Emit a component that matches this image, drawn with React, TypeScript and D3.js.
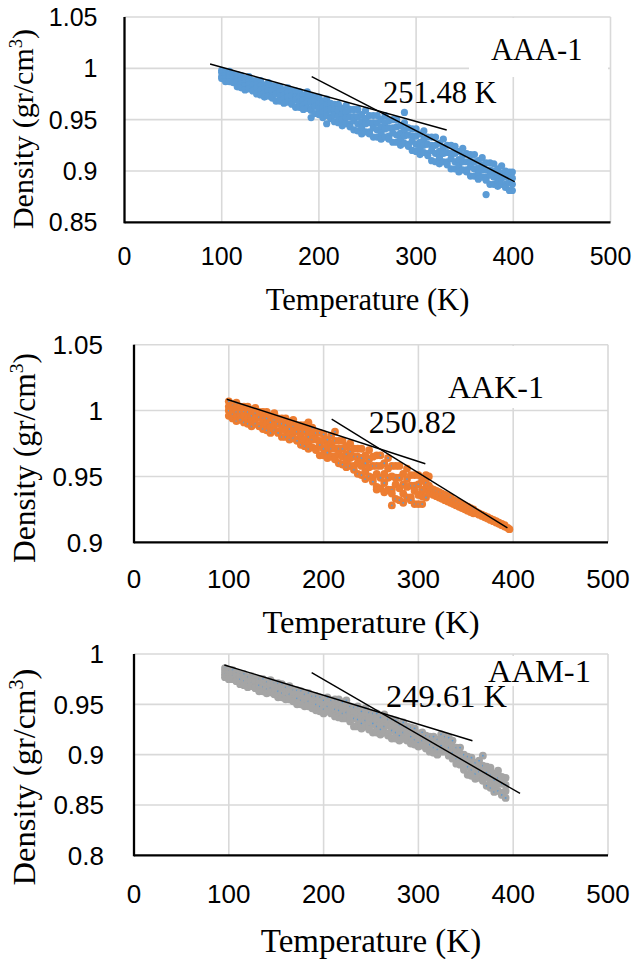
import React from "react";
import * as d3 from "d3";

// ---- data: [temperature, density values...] ----
const xTicks = [0, 100, 200, 300, 400, 500];

const aaaTicks = [0.85, 0.9, 0.95, 1, 1.05];
const aaaRows: number[][] = [
  [100, 0.998, 0.996, 0.992, 0.990], [104, 0.996, 0.993, 0.990, 0.987], [108, 0.997, 0.994, 0.991, 0.987],
  [112, 0.994, 0.991, 0.987, 0.986], [116, 0.994, 0.990, 0.987, 0.982], [120, 0.993, 0.989, 0.985, 0.981],
  [124, 0.990, 0.986, 0.983, 0.979], [128, 0.992, 0.987, 0.984, 0.980], [132, 0.988, 0.984, 0.979, 0.978],
  [136, 0.988, 0.984, 0.981, 0.975], [140, 0.988, 0.983, 0.979, 0.974], [144, 0.984, 0.980, 0.976, 0.972],
  [148, 0.986, 0.981, 0.978, 0.973], [152, 0.983, 0.978, 0.973, 0.971], [156, 0.983, 0.978, 0.975, 0.968],
  [160, 0.982, 0.977, 0.973, 0.968], [164, 0.979, 0.974, 0.970, 0.966], [168, 0.981, 0.976, 0.972, 0.967],
  [172, 0.978, 0.973, 0.967, 0.965], [176, 0.978, 0.972, 0.969, 0.962], [180, 0.977, 0.972, 0.967, 0.962],
  [184, 0.974, 0.969, 0.964, 0.960], [188, 0.977, 0.971, 0.967, 0.961], [192, 0.973, 0.967, 0.961, 0.959, 0.952],
  [196, 0.972, 0.967, 0.963, 0.956], [200, 0.972, 0.966, 0.961, 0.955], [204, 0.968, 0.962, 0.957, 0.952],
  [208, 0.970, 0.964, 0.959, 0.954, 0.946], [212, 0.966, 0.960, 0.953, 0.951], [216, 0.965, 0.959, 0.955, 0.948],
  [220, 0.965, 0.959, 0.953, 0.947], [224, 0.961, 0.955, 0.950, 0.944], [228, 0.964, 0.957, 0.952, 0.946],
  [232, 0.960, 0.953, 0.946, 0.943], [236, 0.960, 0.953, 0.949, 0.940], [240, 0.960, 0.953, 0.946, 0.939],
  [244, 0.955, 0.948, 0.942, 0.936], [248, 0.959, 0.951, 0.946, 0.938], [252, 0.954, 0.947, 0.938, 0.936],
  [256, 0.954, 0.947, 0.942, 0.933], [260, 0.954, 0.947, 0.940, 0.933], [264, 0.950, 0.943, 0.937, 0.931],
  [268, 0.954, 0.947, 0.941, 0.933], [272, 0.949, 0.942, 0.934, 0.931], [276, 0.950, 0.942, 0.937, 0.928],
  [280, 0.950, 0.943, 0.935, 0.928], [284, 0.944, 0.937, 0.931, 0.925], [288, 0.947, 0.940, 0.934, 0.927, 0.957],
  [292, 0.942, 0.935, 0.926, 0.924], [296, 0.941, 0.934, 0.929, 0.920], [300, 0.941, 0.934, 0.926, 0.919],
  [304, 0.936, 0.928, 0.922, 0.916], [308, 0.939, 0.931, 0.925, 0.918], [312, 0.933, 0.926, 0.917, 0.915],
  [316, 0.933, 0.925, 0.920, 0.910], [320, 0.933, 0.925, 0.917, 0.909], [324, 0.927, 0.919, 0.913, 0.907],
  [328, 0.931, 0.923, 0.917, 0.909], [332, 0.925, 0.918, 0.909, 0.906], [336, 0.925, 0.917, 0.912, 0.902],
  [340, 0.924, 0.917, 0.909, 0.902], [344, 0.919, 0.911, 0.905, 0.899], [348, 0.922, 0.915, 0.909, 0.901],
  [352, 0.917, 0.909, 0.901, 0.899], [356, 0.916, 0.909, 0.904, 0.895, 0.915], [360, 0.916, 0.909, 0.902, 0.895],
  [364, 0.910, 0.903, 0.898, 0.892], [368, 0.913, 0.906, 0.901, 0.894], [372, 0.908, 0.901, 0.894, 0.891, 0.877],
  [376, 0.908, 0.901, 0.896, 0.887], [380, 0.907, 0.900, 0.894, 0.887], [384, 0.902, 0.896, 0.890, 0.885],
  [388, 0.905, 0.898, 0.893, 0.887], [392, 0.900, 0.894, 0.887, 0.884], [396, 0.899, 0.893, 0.889, 0.881],
  [399, 0.899, 0.893, 0.887, 0.881],
];
const aaaFits = [
  [[88, 1.0042], [331.5, 0.9399]],
  [[192.6, 0.9918], [401.4, 0.8895]],
];

const aakTicks = [0.9, 0.95, 1, 1.05];
const aakRows: number[][] = [
  [100, 1.007, 1.003, 1.000, 0.996], [104, 1.004, 1.001, 0.997, 0.994], [108, 1.006, 1.002, 0.999, 0.995, 0.992],
  [112, 1.003, 0.999, 0.995, 0.993], [116, 1.003, 0.999, 0.996, 0.991], [120, 1.003, 0.999, 0.994, 0.990],
  [124, 1.000, 0.996, 0.992, 0.988], [128, 1.002, 0.998, 0.994, 0.990], [132, 0.999, 0.995, 0.989, 0.988],
  [136, 0.999, 0.994, 0.991, 0.986], [140, 0.999, 0.994, 0.990, 0.985], [144, 0.996, 0.991, 0.987, 0.983],
  [148, 0.998, 0.993, 0.989, 0.985], [152, 0.994, 0.990, 0.984, 0.983], [156, 0.994, 0.990, 0.986, 0.980],
  [160, 0.994, 0.989, 0.985, 0.980], [164, 0.991, 0.986, 0.982, 0.978], [168, 0.993, 0.988, 0.984, 0.979],
  [172, 0.989, 0.984, 0.978, 0.977], [176, 0.989, 0.984, 0.981, 0.974], [180, 0.989, 0.984, 0.978, 0.973],
  [184, 0.985, 0.980, 0.975, 0.971, 0.991], [188, 0.987, 0.982, 0.978, 0.972], [192, 0.983, 0.978, 0.971, 0.970],
  [196, 0.983, 0.977, 0.974, 0.966], [200, 0.982, 0.977, 0.971, 0.966], [204, 0.978, 0.973, 0.968, 0.964],
  [208, 0.981, 0.975, 0.971, 0.965], [212, 0.977, 0.971, 0.965, 0.963, 0.984], [216, 0.977, 0.971, 0.967, 0.960],
  [220, 0.977, 0.971, 0.965, 0.959], [224, 0.973, 0.967, 0.962, 0.957], [228, 0.975, 0.969, 0.964, 0.958],
  [232, 0.971, 0.965, 0.958, 0.955], [236, 0.971, 0.965, 0.960, 0.952], [240, 0.971, 0.964, 0.958, 0.951],
  [244, 0.966, 0.960, 0.954, 0.948], [248, 0.970, 0.963, 0.957, 0.950], [252, 0.965, 0.958, 0.949, 0.946],
  [256, 0.966, 0.958, 0.952, 0.942, 0.940], [260, 0.966, 0.958, 0.949, 0.941], [264, 0.960, 0.952, 0.945, 0.938],
  [268, 0.964, 0.956, 0.949, 0.940], [272, 0.958, 0.950, 0.940, 0.937, 0.928], [276, 0.958, 0.949, 0.944, 0.933],
  [280, 0.958, 0.949, 0.941, 0.932], [284, 0.952, 0.944, 0.937, 0.930], [288, 0.956, 0.948, 0.942, 0.934],
  [292, 0.951, 0.943, 0.934, 0.932], [296, 0.951, 0.943, 0.939, 0.929], [300, 0.951, 0.944, 0.936, 0.929],
  [304, 0.947, 0.940, 0.935, 0.929], [308, 0.951, 0.945, 0.940, 0.934], [311, 0.950, 0.943, 0.938],
  [313, 0.941, 0.937], [316, 0.940, 0.936], [319, 0.939, 0.935], [322, 0.938, 0.934],
  [325, 0.937, 0.933], [328, 0.936, 0.932], [331, 0.935, 0.931], [334, 0.934, 0.930],
  [337, 0.932, 0.929], [340, 0.931, 0.928], [343, 0.930, 0.927], [346, 0.929, 0.926],
  [349, 0.928, 0.925], [352, 0.927, 0.924], [355, 0.926, 0.923], [358, 0.925, 0.922],
  [361, 0.923, 0.922], [364, 0.922, 0.921], [367, 0.921, 0.920], [370, 0.920, 0.919],
  [373, 0.919, 0.918], [376, 0.918, 0.917], [379, 0.917, 0.916], [382, 0.916, 0.915],
  [385, 0.915, 0.914], [388, 0.914, 0.913], [391, 0.913, 0.912], [394, 0.911], [396, 0.910],
];
const aakFits = [
  [[97.8, 1.0086], [307.3, 0.9596]],
  [[208.5, 0.9935], [393.9, 0.9109]],
];

const aamTicks = [0.8, 0.85, 0.9, 0.95, 1];
const aamRows: number[][] = [
  [96, 0.986, 0.983, 0.980, 0.977], [100, 0.983, 0.980, 0.977, 0.975], [104, 0.984, 0.980, 0.978, 0.975],
  [108, 0.981, 0.978, 0.974, 0.973], [112, 0.980, 0.977, 0.975, 0.970], [116, 0.980, 0.976, 0.973, 0.969],
  [120, 0.977, 0.973, 0.970, 0.967], [124, 0.978, 0.975, 0.971, 0.968], [128, 0.975, 0.972, 0.967, 0.966],
  [132, 0.975, 0.971, 0.969, 0.963], [136, 0.975, 0.971, 0.967, 0.963], [140, 0.972, 0.968, 0.965, 0.961],
  [144, 0.974, 0.970, 0.966, 0.962], [148, 0.971, 0.967, 0.962, 0.960], [152, 0.971, 0.966, 0.963, 0.957],
  [156, 0.970, 0.966, 0.961, 0.957], [160, 0.967, 0.962, 0.958, 0.955], [164, 0.968, 0.964, 0.960, 0.955],
  [168, 0.964, 0.960, 0.955, 0.953], [172, 0.964, 0.959, 0.956, 0.950], [176, 0.963, 0.959, 0.954, 0.950],
  [180, 0.960, 0.955, 0.951, 0.948], [184, 0.961, 0.957, 0.953, 0.948], [188, 0.958, 0.953, 0.948, 0.946],
  [192, 0.958, 0.953, 0.950, 0.944], [196, 0.957, 0.953, 0.948, 0.943], [200, 0.954, 0.949, 0.945, 0.941],
  [204, 0.957, 0.952, 0.948, 0.943], [208, 0.954, 0.949, 0.943, 0.941], [212, 0.955, 0.949, 0.945, 0.938],
  [216, 0.955, 0.949, 0.944, 0.937], [220, 0.952, 0.946, 0.941, 0.936], [224, 0.954, 0.948, 0.942, 0.936],
  [228, 0.948, 0.942, 0.935, 0.933], [232, 0.947, 0.941, 0.936, 0.928], [236, 0.948, 0.941, 0.935, 0.928],
  [240, 0.943, 0.937, 0.931, 0.926], [244, 0.946, 0.940, 0.934, 0.928], [248, 0.942, 0.935, 0.928, 0.925],
  [252, 0.941, 0.935, 0.931, 0.922], [256, 0.941, 0.935, 0.928, 0.922], [260, 0.937, 0.930, 0.925, 0.920],
  [264, 0.940, 0.933, 0.928, 0.922], [268, 0.935, 0.929, 0.921, 0.919], [272, 0.935, 0.929, 0.924, 0.916],
  [276, 0.934, 0.928, 0.922, 0.916], [280, 0.930, 0.924, 0.919, 0.914], [284, 0.932, 0.926, 0.922, 0.916],
  [288, 0.928, 0.922, 0.916, 0.914], [292, 0.927, 0.921, 0.918, 0.911], [296, 0.926, 0.921, 0.915, 0.910],
  [300, 0.921, 0.916, 0.912, 0.908], [304, 0.922, 0.918, 0.914, 0.909], [308, 0.919, 0.914, 0.908, 0.906],
  [312, 0.918, 0.913, 0.910, 0.903], [316, 0.918, 0.912, 0.907, 0.902], [320, 0.915, 0.909, 0.905, 0.900],
  [324, 0.920, 0.914, 0.909, 0.903], [328, 0.918, 0.912, 0.905, 0.903], [332, 0.917, 0.911, 0.907, 0.899],
  [336, 0.914, 0.908, 0.902, 0.896], [340, 0.907, 0.901, 0.896, 0.891], [344, 0.907, 0.901, 0.896, 0.890],
  [348, 0.900, 0.894, 0.887, 0.885], [352, 0.898, 0.892, 0.888, 0.880], [356, 0.897, 0.891, 0.885, 0.879],
  [360, 0.892, 0.886, 0.881, 0.876], [364, 0.894, 0.888, 0.883, 0.877], [368, 0.889, 0.883, 0.876, 0.874, 0.899],
  [372, 0.888, 0.882, 0.878, 0.869], [376, 0.887, 0.880, 0.874, 0.867], [380, 0.881, 0.875, 0.869, 0.863],
  [384, 0.884, 0.877, 0.871, 0.864], [388, 0.878, 0.871, 0.862, 0.860], [392, 0.877, 0.870, 0.864, 0.857],
];
const aamFits = [
  [[95.3, 0.9891], [357, 0.9138]],
  [[187.4, 0.9814], [407.2, 0.8615]],
];

const GRID = "#D9D9D9";
const serif = "'Liberation Serif', 'Times New Roman', serif";
const sans = "'Liberation Sans', Arial, sans-serif";

type PanelProps = {
  rows: number[][];
  fits: number[][][];
  yTicks: number[];
  box: { left: number; right: number; top: number; bottom: number };
  color: string;
  inner?: string;
  r: number;
  name: string;
  nameXY: [number, number];
  nameBox: [number, number, number, number];
  transition: string;
  transXY: [number, number];
  tickSize: number;
  titleSize: number;
  annotSize: number;
  ySize: number;
  tickBaseline: number;
  titleBaseline: number;
  yLabelX: number;
  yLabelY: number;
  yTickGap: number;
};

function Panel(p: PanelProps) {
  const x = d3.scaleLinear().domain([0, 500]).range([p.box.left, p.box.right]);
  const y = d3
    .scaleLinear()
    .domain(d3.extent(p.yTicks) as [number, number])
    .range([p.box.bottom, p.box.top]);
  const pts = p.rows.flatMap((row) => row.slice(1).map((d) => [row[0], d]));
  const line = d3
    .line<number[]>()
    .x((d) => x(d[0]))
    .y((d) => y(d[1]));

  return (
    <g>
      {/* gridlines */}
      {p.yTicks.slice(1).map((t) => (
        <line key={"h" + t} x1={p.box.left} x2={p.box.right} y1={y(t)} y2={y(t)} stroke={GRID} strokeWidth={1.6} />
      ))}
      {xTicks.slice(1).map((t) => (
        <line key={"v" + t} x1={x(t)} x2={x(t)} y1={p.box.top} y2={p.box.bottom} stroke={GRID} strokeWidth={1.6} />
      ))}
      {/* white text box behind sample name */}
      <rect x={p.nameBox[0]} y={p.nameBox[1]} width={p.nameBox[2]} height={p.nameBox[3]} fill="#fff" />
      {/* axes */}
      <line x1={p.box.left} x2={p.box.left} y1={p.box.top} y2={p.box.bottom + 1} stroke="#000" strokeWidth={2.3} />
      <line x1={p.box.left} x2={p.box.right} y1={p.box.bottom} y2={p.box.bottom} stroke="#000" strokeWidth={2.3} />
      {/* points */}
      {pts.map((d, i) => (
        <g key={i}>
          <circle cx={x(d[0])} cy={y(d[1])} r={p.r} fill={p.color} />
          {p.inner && i % 2 === 0 && <circle cx={x(d[0])} cy={y(d[1])} r={0.9} fill={p.inner} />}
        </g>
      ))}
      {/* fit lines */}
      {p.fits.map((f, i) => (
        <path key={i} d={line(f) || ""} stroke="#000" strokeWidth={1.4} fill="none" />
      ))}
      {/* tick labels */}
      {p.yTicks.map((t) => (
        <text key={"yl" + t} x={p.box.left - p.yTickGap} y={y(t)} dy="0.36em" textAnchor="end" fontFamily={sans} fontSize={p.tickSize}>
          {String(t)}
        </text>
      ))}
      {xTicks.map((t) => (
        <text key={"xl" + t} x={x(t)} y={p.tickBaseline} textAnchor="middle" fontFamily={sans} fontSize={p.tickSize}>
          {t}
        </text>
      ))}
      {/* axis titles */}
      <text x={(p.box.left + p.box.right) / 2} y={p.titleBaseline} textAnchor="middle" fontFamily={serif} fontSize={p.titleSize}>
        Temperature (K)
      </text>
      <text
        transform={`translate(${p.yLabelX},${p.yLabelY}) rotate(-90)`}
        textAnchor="middle"
        fontFamily={serif}
        fontSize={p.ySize}
      >
        Density (gr/cm<tspan dy={-p.ySize * 0.38} fontSize={p.ySize * 0.62}>3</tspan>
        <tspan dy={p.ySize * 0.38}>)</tspan>
      </text>
      {/* annotations */}
      <text x={p.nameXY[0]} y={p.nameXY[1]} fontFamily={serif} fontSize={p.annotSize}>
        {p.name}
      </text>
      <text x={p.transXY[0]} y={p.transXY[1]} fontFamily={serif} fontSize={p.annotSize}>
        {p.transition}
      </text>
    </g>
  );
}

export default function App() {
  return (
    <svg width={633} height={959} style={{ position: "absolute", left: 0, top: 0, background: "#fff" }}>
      <rect width={633} height={959} fill="#fff" />
      <Panel
        rows={aaaRows}
        fits={aaaFits}
        yTicks={aaaTicks}
        box={{ left: 124.5, right: 610.5, top: 17, bottom: 222.3 }}
        color="#5B9BD5"
        r={3.6}
        name="AAA-1"
        nameXY={[491, 60]}
        nameBox={[469, 18, 139, 59]}
        transition="251.48 K"
        transXY={[383, 103]}
        tickSize={25}
        titleSize={30.5}
        annotSize={30.5}
        ySize={30}
        tickBaseline={265}
        titleBaseline={310}
        yLabelX={33}
        yLabelY={129}
        yTickGap={27}
      />
      <Panel
        rows={aakRows}
        fits={aakFits}
        yTicks={aakTicks}
        box={{ left: 134, right: 608, top: 344.7, bottom: 542.3 }}
        color="#ED7D31"
        inner="#5B9BD5"
        r={3.9}
        name="AAK-1"
        nameXY={[448, 398]}
        nameBox={[440, 346, 144, 62]}
        transition="250.82"
        transXY={[368.7, 433]}
        tickSize={26}
        titleSize={32.5}
        annotSize={32}
        ySize={31.5}
        tickBaseline={588}
        titleBaseline={633}
        yLabelX={35}
        yLabelY={458}
        yTickGap={31}
      />
      <Panel
        rows={aamRows}
        fits={aamFits}
        yTicks={aamTicks}
        box={{ left: 134, right: 608, top: 654, bottom: 855.3 }}
        color="#A5A5A5"
        inner="#5B9BD5"
        r={3.9}
        name="AAM-1"
        nameXY={[488, 682]}
        nameBox={[480, 656, 126, 30]}
        transition="249.61 K"
        transXY={[386, 707]}
        tickSize={26}
        titleSize={33}
        annotSize={32.5}
        ySize={32.5}
        tickBaseline={903}
        titleBaseline={952}
        yLabelX={35}
        yLabelY={777}
        yTickGap={30}
      />
    </svg>
  );
}
